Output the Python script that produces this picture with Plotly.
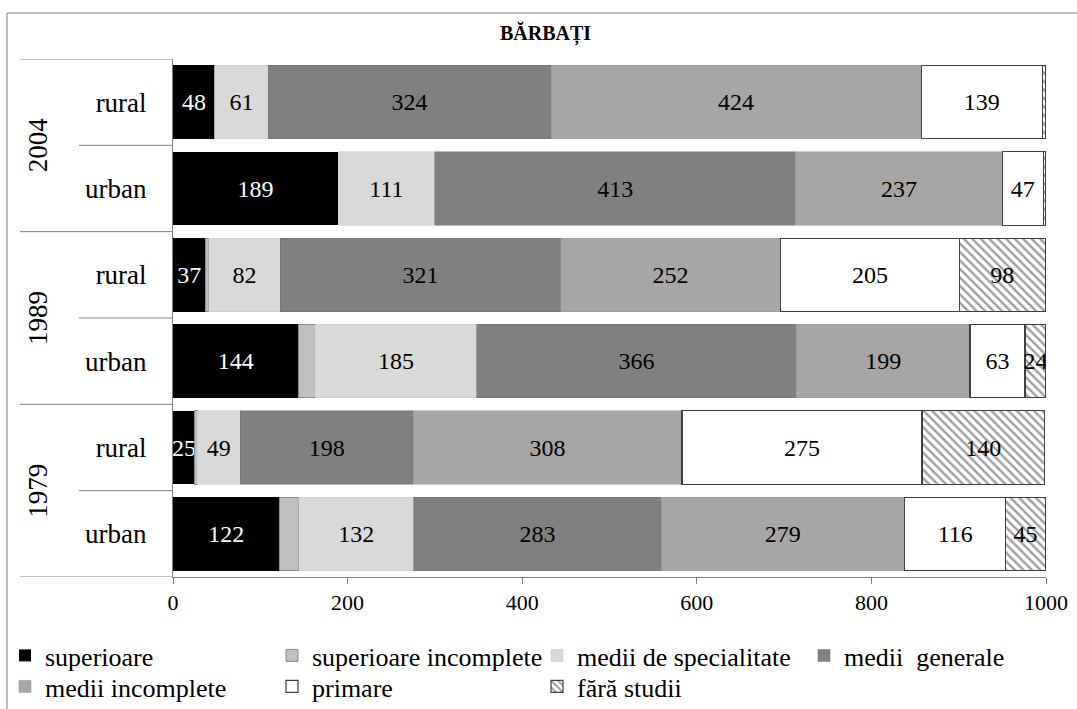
import plotly.graph_objects as go

# ---- data ----
years = ["2004", "2004", "1989", "1989", "1979", "1979"]
areas = ["rural", "urban", "rural", "urban", "rural", "urban"]
series_names = ["superioare", "superioare incomplete", "medii de specialitate",
                "medii  generale", "medii incomplete", "primare", "fără studii"]
superioare = [48, 189, 37, 144, 25, 122]
superioare_incomplete = [0, 0, 4, 19, 3, 22]
medii_specialitate = [61, 111, 82, 185, 49, 132]
medii_generale = [324, 413, 321, 366, 198, 283]
medii_incomplete = [424, 237, 252, 199, 308, 279]
primare = [139, 47, 205, 63, 275, 116]
fara_studii = [4, 3, 98, 24, 140, 45]
x_ticks = [0, 200, 400, 600, 800, 1000]
title = "BĂRBAȚI"

series_values = [superioare, superioare_incomplete, medii_specialitate,
                 medii_generale, medii_incomplete, primare, fara_studii]
colors = ["#000000", "#bfbfbf", "#d9d9d9", "#808080", "#a6a6a6", "#ffffff", "#ffffff"]
text_colors = ["white", "black", "black", "black", "black", "black", "black"]
show_labels = [True, False, True, True, True, True, True]
line_colors = ["#000000", "#8c8c8c", "#c8c8c8", "#6e6e6e", "#959595", "#404040", "#404040"]
line_widths = [0, 1, 0.5, 0.5, 0.5, 1.2, 1.2]

FONT = "Liberation Serif, Times New Roman, serif"
pos = list(range(len(years)))

# plot area in pixels: x 173..1046, y 59..577
W, H = 873.0, 518.0
def px_x(p):
    return (p - 173) / W
def px_y(p):
    return (577 - p) / H

# legend grid: 4 columns x 2 rows (pixel positions of each legend box)
legend_cols_px = [5, 272, 537, 804]
legend_rows_px = [632, 663]

fig = go.Figure()
legend_layout = {}
for i, name in enumerate(series_names):
    vals = series_values[i]
    txt = [str(v) if (show_labels[i] and v >= 10) else "" for v in vals]
    marker = dict(color=colors[i], line=dict(color=line_colors[i], width=line_widths[i]))
    if name == "fără studii":
        marker["pattern"] = dict(shape="\\", fgcolor="#3a3a3a", bgcolor="#ffffff",
                                 size=6, solidity=0.4)
    lid = "legend" if i == 0 else "legend%d" % (i + 1)
    fig.add_trace(go.Bar(
        y=pos, x=vals, name=name, orientation="h", marker=marker,
        text=txt, textposition="inside", insidetextanchor="middle",
        textangle=0, constraintext="none",
        textfont=dict(family=FONT, size=24, color=text_colors[i]),
        hoverinfo="x+name", legend=lid,
    ))
    legend_layout[lid] = dict(
        orientation="v", yanchor="top", xanchor="left",
        x=px_x(legend_cols_px[i % 4]), y=px_y(legend_rows_px[i // 4]),
        bgcolor="rgba(0,0,0,0)", font=dict(family=FONT, size=26, color="black"),
        itemclick=False, itemdoubleclick=False)

shapes = []
# outer frame (extends past the canvas on the right/bottom)
shapes.append(dict(type="rect", xref="paper", yref="paper",
                   x0=px_x(7), x1=px_x(1100), y0=px_y(730), y1=px_y(13),
                   line=dict(color="#808080", width=1), fillcolor="rgba(0,0,0,0)", layer="below"))
# table lines on left
n = len(years)
for k in range(n + 1):
    b = k - 0.5
    if k == 0 or k == n or years[k] != years[k - 1]:
        x0 = px_x(20)
    else:
        x0 = px_x(79)
    shapes.append(dict(type="line", xref="paper", yref="y", x0=x0, x1=0, y0=b, y1=b,
                       line=dict(color="#808080", width=1)))

annotations = []
seen = []
for y in years:
    if y not in seen:
        seen.append(y)
for y in seen:
    idx = [j for j, v in enumerate(years) if v == y]
    c = (idx[0] + idx[-1]) / 2.0
    annotations.append(dict(text=y, xref="paper", yref="y", x=px_x(38), y=c,
                            xanchor="center", yanchor="middle",
                            textangle=-90, showarrow=False,
                            font=dict(family=FONT, size=27, color="black")))
annotations.append(dict(text="<b>" + title + "</b>", xref="paper", yref="paper",
                        x=px_x(545), y=px_y(34), xanchor="center", yanchor="middle",
                        showarrow=False,
                        font=dict(family=FONT, size=20, color="black")))

fig.update_layout(
    barmode="stack",
    bargap=0.15,
    width=1077, height=709,
    margin=dict(l=173, r=31, t=59, b=132, autoexpand=False),
    paper_bgcolor="white", plot_bgcolor="white",
    font=dict(family=FONT, size=22, color="black"),
    showlegend=True,
    shapes=shapes,
    annotations=annotations,
    xaxis=dict(range=[0, 1000], tickvals=x_ticks, ticks="outside", ticklen=6,
               tickcolor="#808080", showline=True, linecolor="#808080", linewidth=1,
               showgrid=False, zeroline=False,
               tickfont=dict(family=FONT, size=22, color="black")),
    yaxis=dict(tickvals=pos, ticktext=areas, range=[n - 0.5, -0.5],
               showline=True, linecolor="#808080", linewidth=1, showgrid=False,
               zeroline=False, ticks="", ticklabelstandoff=20,
               tickfont=dict(family=FONT, size=27, color="black")),
    **legend_layout,
)

fig.write_html("out.html", config={"displayModeBar": False},
               post_script="document.body.style.margin='0';")
